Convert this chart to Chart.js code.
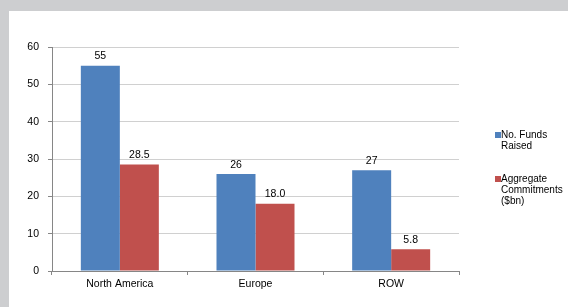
<!DOCTYPE html>
<html>
<head>
<meta charset="utf-8">
<script src="https://cdn.jsdelivr.net/npm/chart.js@4"></script>
<style>
  html, body { margin: 0; padding: 0; background: #cdced0; width: 568px; height: 307px; overflow: hidden; }
  #wrap { position: absolute; left: 9px; top: 11px; width: 559px; height: 296px; background: #ffffff; }
</style>
</head>
<body>
<div id="wrap"><canvas id="c"></canvas></div>
<script>
const categories = ["North America", "Europe", "ROW"];
const fundsRaised = [55, 26, 27];
const commitments = [28.5, 18.0, 5.8];
const seriesNames = ["No. Funds Raised", "Aggregate Commitments ($bn)"];
const seriesDecimals = [0, 1];
const yTicks = { min: 0, max: 60, step: 10 };

const FONT = "'Liberation Sans', Arial, sans-serif";

const valueLabels = {
  id: 'valueLabels',
  afterDatasetsDraw(chart) {
    const ctx = chart.ctx;
    ctx.save();
    ctx.font = "10.5px " + FONT;
    ctx.fillStyle = '#000';
    ctx.textAlign = 'center';
    ctx.textBaseline = 'bottom';
    chart.data.datasets.forEach((ds, di) => {
      const meta = chart.getDatasetMeta(di);
      meta.data.forEach((bar, i) => {
        const v = ds.data[i];
        ctx.fillText(v.toFixed(seriesDecimals[di]), bar.x, bar.y - 4);
      });
    });
    ctx.restore();
  }
};

const sideLegend = {
  id: 'sideLegend',
  afterDraw(chart) {
    const ctx = chart.ctx;
    ctx.save();
    ctx.font = "10px " + FONT;
    ctx.textBaseline = 'middle';
    ctx.textAlign = 'left';
    const x0 = chart.chartArea.right + 36;
    const starts = [124, 168];
    const lh = 11;
    const maxW = 64;
    chart.data.datasets.forEach((ds, di) => {
      const words = ds.label.split(' ');
      const lines = [];
      let cur = '';
      words.forEach(w => {
        const t = cur ? cur + ' ' + w : w;
        if (ctx.measureText(t).width > maxW && cur) { lines.push(cur); cur = w; }
        else cur = t;
      });
      if (cur) lines.push(cur);
      const y = starts[di];
      ctx.fillStyle = ds.backgroundColor;
      ctx.fillRect(x0, y - 3, 6, 6);
      ctx.fillStyle = '#000';
      lines.forEach((ln, li) => ctx.fillText(ln, x0 + 6, y + li * lh));
    });
    ctx.restore();
  }
};

new Chart(document.getElementById('c'), {
  type: 'bar',
  data: {
    labels: categories,
    datasets: [
      { label: seriesNames[0], data: fundsRaised, backgroundColor: '#4f81bd', borderWidth: 0 },
      { label: seriesNames[1], data: commitments, backgroundColor: '#c0504d', borderWidth: 0 }
    ]
  },
  options: {
    responsive: true,
    maintainAspectRatio: false,
    animation: false,
    layout: { padding: { top: 36, right: 109, left: 0, bottom: 0 } },
    plugins: { legend: { display: false }, tooltip: { enabled: false } },
    datasets: { bar: { categoryPercentage: 0.575, barPercentage: 1.0 } },
    scales: {
      x: {
        afterFit(s) { s.height = 36; },
        grid: { offset: true, drawOnChartArea: false, tickLength: 4, tickColor: '#868686' },
        border: { color: '#868686', width: 1 },
        ticks: { color: '#000', padding: 3, font: { family: FONT, size: 10.5 } }
      },
      y: {
        min: yTicks.min, max: yTicks.max,
        afterFit(s) { s.width = 43; },
        grid: { color: '#d0d0d0', tickLength: 4, tickColor: '#868686' },
        border: { color: '#868686', width: 1 },
        ticks: { stepSize: yTicks.step, color: '#000', padding: 9, font: { family: FONT, size: 10.5 } }
      }
    }
  },
  plugins: [valueLabels, sideLegend]
});
</script>
</body>
</html>
